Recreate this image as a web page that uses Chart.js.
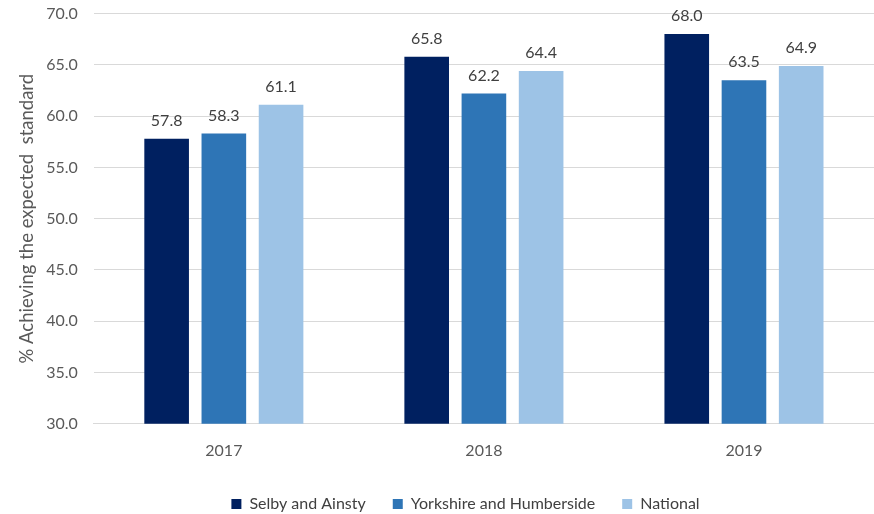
<!DOCTYPE html>
<html>
<head>
<meta charset="utf-8">
<script src="https://cdn.jsdelivr.net/npm/chart.js@4"></script>
<style>
  html, body { margin: 0; padding: 0; background: #fff; }
  #wrap { width: 874px; height: 514px; }
</style>
</head>
<body>
<div id="wrap"><canvas id="myChart"></canvas></div>
<script>
const years = ['2017', '2018', '2019'];
const selby = [57.8, 65.8, 68.0];
const yorkshire = [58.3, 62.2, 63.5];
const national = [61.1, 64.4, 64.9];

const FONT = 'Lato, "Open Sans", sans-serif';

// draws the value above each bar
const barLabels = {
    id: 'barLabels',
    afterDatasetsDraw(chart) {
        const c = chart.ctx;
        c.save();
        c.font = '16px ' + FONT;
        c.fillStyle = '#404040';
        c.textAlign = 'center';
        c.textBaseline = 'middle';
        chart.data.datasets.forEach((ds, i) => {
            chart.getDatasetMeta(i).data.forEach((bar, j) => {
                c.fillText(ds.data[j].toFixed(1), bar.x, bar.y - 18);
            });
        });
        c.restore();
    }
};

// legend sits a bit right of the canvas centre in the original
const shiftLegend = {
    id: 'shiftLegend',
    afterLayout(chart) {
        chart.legend.left += 20;
        chart.legend.right += 20;
    }
};

const ctx = document.getElementById('myChart').getContext('2d');
const myChart = new Chart(ctx, {
    type: 'bar',
    data: {
        labels: years,
        datasets: [
            { label: 'Selby and Ainsty', data: selby, backgroundColor: '#002060' },
            { label: 'Yorkshire and Humberside', data: yorkshire, backgroundColor: '#2E75B6' },
            { label: 'National', data: national, backgroundColor: '#9DC3E6' }
        ]
    },
    options: {
        responsive: true,
        maintainAspectRatio: false,
        animation: false,
        categoryPercentage: 0.66,
        barPercentage: 0.78,
        layout: { padding: { top: 0, right: -5, left: 12, bottom: -8 } },
        plugins: {
            legend: {
                position: 'bottom',
                labels: {
                    boxWidth: 10,
                    boxHeight: 10,
                    padding: 27,
                    color: '#404040',
                    font: { family: FONT, size: 16 }
                }
            },
            tooltip: { enabled: false }
        },
        scales: {
            x: {
                grid: { display: false },
                border: { color: '#d9d9d9' },
                ticks: {
                    color: '#595959',
                    padding: 9,
                    font: { family: FONT, size: 16 }
                }
            },
            y: {
                min: 30,
                max: 70,
                grid: { color: '#d9d9d9', drawTicks: true, tickLength: 12, tickColor: 'rgba(0,0,0,0)' },
                border: { display: false },
                ticks: {
                    stepSize: 5,
                    padding: 4,
                    color: '#595959',
                    font: { family: FONT, size: 16 },
                    callback: v => v.toFixed(1)
                },
                title: {
                    display: true,
                    text: '% Achieving the expected  standard',
                    color: '#595959',
                    font: { family: FONT, size: 18.5 }
                }
            }
        }
    },
    plugins: [barLabels, shiftLegend]
});
</script>
</body>
</html>
